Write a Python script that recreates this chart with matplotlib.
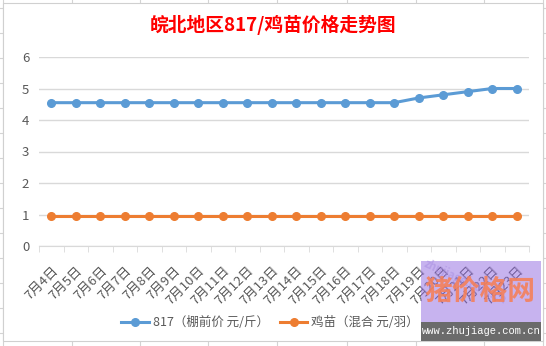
import matplotlib
matplotlib.use("Agg")
import matplotlib.pyplot as plt
from matplotlib.patches import Rectangle
from matplotlib.lines import Line2D
import numpy as np

plt.rcParams['font.family'] = ['Noto Sans CJK SC', 'DejaVu Sans']

# daily prices
dates = ['7月%d日' % d for d in range(4, 24)]
price_817 = [4.55, 4.55, 4.55, 4.55, 4.55, 4.55, 4.55, 4.55, 4.55, 4.55,
             4.55, 4.55, 4.55, 4.55, 4.55, 4.7, 4.8, 4.9, 5.0, 5.0]
price_chick = [0.95] * 20
title = '皖北地区817/鸡苗价格走势图'
label_817 = '817（棚前价 元/斤）'
label_chick = '鸡苗（混合 元/羽）'

W, H = 546, 346
fig = plt.figure(figsize=(W / 100, H / 100), dpi=100)


def fx(px):
    return px / W


def fy(py):
    return 1 - py / H


# sheet cells behind the chart
grid_c = '#d4d4d4'
for x in [3, 72, 140, 208, 277, 347, 416, 484, 543]:
    fig.add_artist(Line2D([fx(x), fx(x)], [0, 1], color=grid_c, lw=0.8, zorder=-3))
for y in range(8, 346, 25):
    fig.add_artist(Line2D([0, 1], [fy(y), fy(y)], color=grid_c, lw=0.8, zorder=-3))
fig.add_artist(Rectangle((fx(3), fy(341)), fx(540), 338 / H, transform=fig.transFigure,
                         facecolor='white', edgecolor='#d0d0d0', lw=0.8, zorder=-2))

ax = fig.add_axes([fx(39), fy(246), fx(529 - 39), (246 - 57) / H])
ax.patch.set_visible(False)
x = np.arange(len(dates))
ax.plot(x, price_817, color='#5b9bd5', lw=2.2, marker='o', ms=5.5, label=label_817)
ax.plot(x, price_chick, color='#ed7d31', lw=2.2, marker='o', ms=5.5, label=label_chick)

ax.set_xlim(-0.5, len(dates) - 0.5)
ax.set_ylim(0, 6)
ax.set_yticks(range(0, 7))
ax.grid(axis='y', color='#d9d9d9', lw=1)
ax.set_axisbelow(True)
for s in ['top', 'right', 'left']:
    ax.spines[s].set_visible(False)
ax.spines['bottom'].set_color('#d9d9d9')
ax.tick_params(axis='y', length=0, pad=7, labelsize=9.5, labelcolor='#595959')
ax.set_xticks(x)
ax.set_xticklabels(dates, rotation=45, ha='right', va='top', rotation_mode='anchor',
                   fontsize=9.5, color='#595959')
ax.tick_params(axis='x', which='major', length=0, pad=13)
ax.set_xticks(np.arange(-0.5, len(dates)), minor=True)
ax.tick_params(axis='x', which='minor', length=4, color='#d9d9d9')

fig.text(0.5, fy(25), title, ha='center', va='center', fontsize=13.5,
         fontweight='bold', color='#ff0000')

fig.legend(loc='center', bbox_to_anchor=(fx(270), fy(323)), ncol=2, frameon=False,
           fontsize=9, handlelength=2.2, columnspacing=0.9, handletextpad=0.3,
           labelcolor='#595959')

# site stamp
fig.add_artist(Rectangle((fx(421), fy(322)), fx(120), 61 / H, transform=fig.transFigure,
                         facecolor='#9169e1', alpha=0.5, edgecolor='none', zorder=10))
fig.add_artist(Rectangle((fx(421), fy(341)), fx(120), 19 / H, transform=fig.transFigure,
                         facecolor='#6b6b6b', edgecolor='none', zorder=10))
fig.text(fx(422), fy(282), 'zhujiage.com.cn', ha='left', va='center', fontsize=8,
         fontweight='bold', color='#a58be0', alpha=0.5, rotation=-25, zorder=11)
fig.text(fx(480), fy(292), '猪价格网', ha='center', va='center', fontsize=20,
         fontweight='bold', color='#f4805a', alpha=0.9, zorder=11)
fig.text(fx(481), fy(331), 'www.zhujiage.com.cn', ha='center', va='center', fontsize=7.6,
         color='white', family='Liberation Mono', zorder=11)

fig.savefig('out.png', dpi=100)
